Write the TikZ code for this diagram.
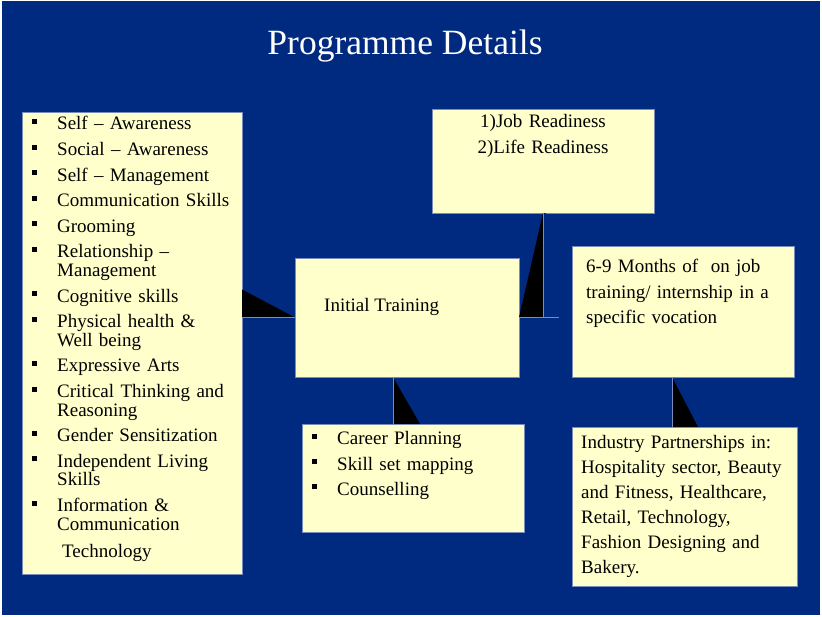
\documentclass[tikz,border=0pt]{standalone}
\usepackage{fontspec}
\setmainfont{Liberation Serif}
\definecolor{slideblue}{RGB}{0,42,128}
\definecolor{boxyellow}{RGB}{255,255,204}
\definecolor{edgeblue}{RGB}{120,140,190}
\newcommand{\bul}{\leavevmode\llap{\rule[6pt]{5pt}{5pt}\hspace{20pt}}}

\begin{document}
\begin{tikzpicture}[x=1pt, y=-1pt,
    box/.style={rectangle, draw=edgeblue, line width=0.8pt, fill=boxyellow, inner sep=0pt, outer sep=0pt},
    txt/.style={inner sep=0pt, align=left, font=\fontsize{19}{25.2}\selectfont},
    conn/.style={draw=edgeblue, line width=0.8pt},
    wedge/.style={fill=black}]
    \useasboundingbox (0,0) rectangle (822,617);
    \fill[slideblue] (2,1) rectangle (820,615);

    \node[text=white, inner sep=0pt, anchor=base, font=\fontsize{35.5}{40}\selectfont] at (405,55) (title) {Programme Details};

    % boxes
    \node[box, minimum width=220pt, minimum height=462pt] at (132,343) (skillsbox) {};
    \node[box, minimum width=222pt, minimum height=104pt] at (543,161) (jobbox) {};
    \node[box, minimum width=224pt, minimum height=119pt] at (407,317.5) (initbox) {};
    \node[box, minimum width=222pt, minimum height=131pt] at (683,311.5) (monthsbox) {};
    \node[box, minimum width=222pt, minimum height=108pt] at (413,478) (careerbox) {};
    \node[box, minimum width=225pt, minimum height=159pt] at (684.5,506.5) (industrybox) {};

    % connectors
    \fill[wedge] (initbox.west -| skillsbox.east) -- ++(0,-28) -- (initbox.west) -- cycle;
    \draw[conn] (initbox.west -| skillsbox.east) -- (initbox.west);

    \fill[wedge] (jobbox.south) -- (initbox.east) -- (initbox.east -| jobbox.south) -- cycle;
    \draw[conn, double=slideblue, double distance=2pt] ([xshift=1.5pt]jobbox.south) -- ([xshift=1.5pt]initbox.east -| jobbox.south);
    \draw[conn, shorten >=13pt] (initbox.east) -- (initbox.east -| monthsbox.west);

    \fill[wedge] ([xshift=-14pt]initbox.south) -- ([xshift=-14pt]initbox.south |- careerbox.north) -- ++(27,0) -- cycle;
    \draw[conn] ([xshift=-14pt]initbox.south) -- ([xshift=-14pt]initbox.south |- careerbox.north);

    \fill[wedge] ([xshift=-11pt]monthsbox.south) -- ([xshift=-11pt]monthsbox.south |- industrybox.north) -- ++(26,0) -- cycle;
    \draw[conn] ([xshift=-11pt]monthsbox.south) -- ([xshift=-11pt]monthsbox.south |- industrybox.north);

    % texts
    \node[txt, text width=185pt, anchor=base west, font=\fontsize{19}{18.6}\selectfont] at (57,130) (skills) {\bul Self -- Awareness\\[7pt]
        \bul Social -- Awareness\\[7pt]
        \bul Self -- Management\\[7pt]
        \bul Communication Skills\\[7pt]
        \bul Grooming\\[7pt]
        \bul Relationship --\\Management\\[7pt]
        \bul Cognitive skills\\[7pt]
        \bul Physical health \&\\Well being\\[7pt]
        \bul Expressive Arts\\[7pt]
        \bul Critical Thinking and\\Reasoning\\[7pt]
        \bul Gender Sensitization\\[7pt]
        \bul Independent Living\\Skills\\[7pt]
        \bul Information \&\\Communication\\[8.4pt]
        \hspace*{5pt}Technology};
    \node[txt, text width=210pt, align=center, anchor=base, font=\fontsize{19}{26}\selectfont] at (543,128) (jobs) {1)Job Readiness\\2)Life Readiness};
    \node[txt, anchor=base west] at (324,312) (init) {Initial Training};
    \node[txt, text width=205pt, anchor=base west] at (586,273) (months) {6-9 Months of\ \ on job\\training/ internship in a\\specific vocation};
    \node[txt, text width=180pt, anchor=base west] at (337,445) (career) {\bul Career Planning\\\bul Skill set mapping\\\bul Counselling};
    \node[txt, text width=212pt, anchor=base west] at (581,448) (industry) {Industry Partnerships in:\\Hospitality sector, Beauty\\and Fitness, Healthcare,\\Retail, Technology,\\Fashion Designing and\\Bakery.};
\end{tikzpicture}
\end{document}
